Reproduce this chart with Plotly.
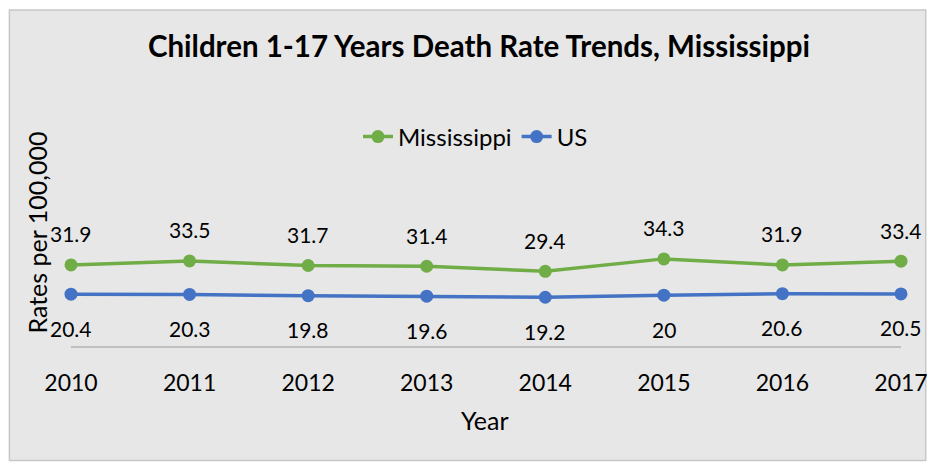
import plotly.graph_objects as go

years = [2010, 2011, 2012, 2013, 2014, 2015, 2016, 2017]
mississippi = [31.9, 33.5, 31.7, 31.4, 29.4, 34.3, 31.9, 33.4]
us = [20.4, 20.3, 19.8, 19.6, 19.2, 20, 20.6, 20.5]
ms_labels = ["31.9", "33.5", "31.7", "31.4", "29.4", "34.3", "31.9", "33.4"]
us_labels = ["20.4", "20.3", "19.8", "19.6", "19.2", "20", "20.6", "20.5"]

GREEN = "#70ad47"
BLUE = "#4472c4"
FONT = "Lato"

# figure is placed at page offset (8, 8)
W, H = 932, 455
ml, mr, mt, mb = 63, 30, 210.5, 117
pw = W - ml - mr
ph = H - mt - mb

def px2x(px):
    return (px - ml) / pw

def py2y(py):
    return (H - mb - py) / ph

fig = go.Figure()
fig.add_trace(go.Scatter(x=years, y=mississippi, name="Mississippi", mode="lines+markers",
                         line=dict(color=GREEN, width=3.5), marker=dict(color=GREEN, size=13),
                         cliponaxis=False))
fig.add_trace(go.Scatter(x=years, y=us, name="US", mode="lines+markers",
                         line=dict(color=BLUE, width=3.5), marker=dict(color=BLUE, size=13),
                         cliponaxis=False))

annotations = []
for x, y, t in zip(years, mississippi, ms_labels):
    annotations.append(dict(x=x, y=y, text=t, showarrow=False, yshift=31,
                            font=dict(family=FONT, size=21, color="#000")))
for x, y, t in zip(years, us, us_labels):
    annotations.append(dict(x=x, y=y, text=t, showarrow=False, yshift=-34,
                            font=dict(family=FONT, size=21, color="#000")))

annotations.append(dict(xref="paper", yref="paper", x=px2x(28.7), y=py2y(224), text="Rates per 100,000",
                        textangle=-90, showarrow=False, xanchor="center", yanchor="middle",
                        font=dict(family=FONT, size=25, color="#000")))
annotations.append(dict(xref="paper", yref="paper", x=px2x(481), y=py2y(412), text="Year",
                        showarrow=False, xanchor="center", yanchor="middle",
                        font=dict(family=FONT, size=25, color="#000")))

fig.update_layout(
    width=W, height=H,
    margin=dict(l=ml, r=mr, t=mt, b=mb),
    paper_bgcolor="white",
    plot_bgcolor="rgba(0,0,0,0)",
    font=dict(family=FONT, color="#000"),
    title=dict(text="<b>Children 1-17 Years Death Rate Trends, Mississippi</b>",
               x=471 / W, xref="container", xanchor="center",
               y=1 - 39 / H, yref="container", yanchor="middle",
               font=dict(family=FONT, size=29.5, color="#000")),
    legend=dict(orientation="h", x=467.5 / W, xref="container", xanchor="center",
                y=1 - 129 / H, yref="container", yanchor="middle",
                font=dict(family=FONT, size=24, color="#000"), bgcolor="rgba(0,0,0,0)"),
    showlegend=True,
    annotations=annotations,
    shapes=[dict(type="rect", xref="paper", yref="paper", layer="below",
                 x0=px2x(0.75), x1=px2x(927), y0=py2y(453), y1=py2y(0.75),
                 fillcolor="#e7e7e7", line=dict(color="#c8c8c8", width=1.5))],
)
fig.update_xaxes(range=[2010, 2017], tickvals=years, ticktext=[str(y) for y in years],
                 showgrid=False, zeroline=False, showline=True, linecolor="#bfbfbf", linewidth=1.5,
                 ticks="", ticklabelstandoff=16, tickfont=dict(family=FONT, size=23, color="#000"))
fig.update_yaxes(range=[0, 50], showgrid=False, zeroline=False, showline=False, showticklabels=False)

fig.write_html("out.html")
